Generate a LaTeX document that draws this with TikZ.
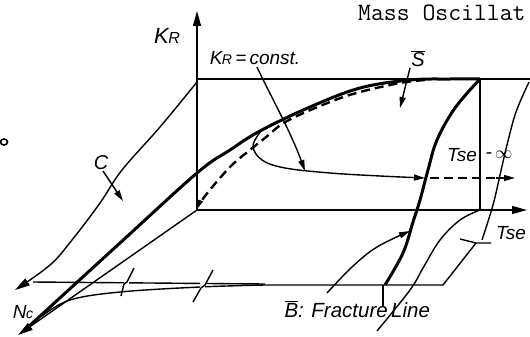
\documentclass[tikz,border=0pt]{standalone}
\usepackage{fontspec}
\newfontfamily\hand{Liberation Sans}
\usetikzlibrary{arrows.meta}
\begin{document}
\begin{tikzpicture}[x=1pt,y=-1pt,
  thinl/.style={line width=1.4pt},
  thickl/.style={line width=3pt},
  axtip/.style={-{Triangle[length=15pt,width=8pt]}},
  ptip/.style={-{Triangle[length=11pt,width=6pt]}},
  lbl/.style={font=\hand\itshape\fontsize{19}{19}\selectfont, inner sep=0pt},
  dashl/.style={line width=2.4pt, dash pattern=on 9pt off 5pt}]
\useasboundingbox (0,0) rectangle (530,337);

% key points
\coordinate (O) at (197,210);
\coordinate (KRtop) at (197,11);
\coordinate (TL) at (197,79);
\coordinate (TR) at (480,79);
\coordinate (TRR) at (530,79);
\coordinate (BR) at (480,210);
\coordinate (Tend) at (527,210);
\coordinate (Nend) at (18,335);

% axes and back plane
\draw[thinl, axtip] (O) -- (KRtop);
\draw[thinl, axtip] (O) -- (Tend);
\draw[thinl, axtip] (O) -- (Nend);
\draw[thinl] (TL) -- (TRR);
\draw[thinl] (TR) -- (BR);

% curve C
\draw[thinl, axtip] plot[smooth, tension=0.6] coordinates {(197,82) (160,127) (122,170) (100,203) (72,240) (50,265) (15,290)};

% thick solid surface curve
\draw[thickl] plot[smooth, tension=0.6] coordinates {(27,328) (50,307) (120,243) (197,173) (230,150) (260,131) (310,107) (360,88) (410,80) (450,79) (480,79)};

% dashed curve
\draw[dashl, -{Triangle[length=8pt,width=5pt]}] plot[smooth, tension=0.6] coordinates {(425,80) (400,83) (360,92) (330,102) (287,121) (265,138) (250,150) (230,167) (205,196) (198,208)};

% fracture line B (thick)
\draw[thickl] plot[smooth, tension=0.6] coordinates {(480,79) (455,108) (437,140) (428,170) (420,200) (413,222) (403,253) (385,285)};

% K_R = const curve
\draw[thinl, ptip] plot[smooth, tension=0.6] coordinates {(261,131) (253,146) (262,160) (285,168) (330,173) (380,176) (425,178)};
\draw[thinl, dash pattern=on 9pt off 5pt] (430,178) -- (500,178);
\draw[thinl, ptip] (496,178) -- (515,178);

% Tse -> infinity curve on the right
\draw[thinl] plot[smooth, tension=0.6] coordinates {(529,82) (516,112) (507,145) (500,175) (493,205) (482,240)};
\draw[thinl] (460,239) -- (476,243) -- (491,243);

% base plane edges
\draw[thinl] (476,243) -- (443,285) -- (265,285);
\draw[thinl] (33,282) -- (265,284);
\draw[thinl] plot[smooth, tension=0.6] coordinates {(42,316) (70,300) (120,292) (200,287) (265,285)};
% break marks
\fill[white] (124,278) rectangle (129,288);
\draw[thinl] (134,268) -- (127,282) -- (124,284) -- (121,296);
\fill[white] (200,282) rectangle (205,291);
\draw[thinl] (213,270) -- (205,285) -- (201,288) -- (193,302);

% projection of fracture line
\draw[thinl] plot[smooth, tension=0.6] coordinates {(480,210) (460,220) (440,240) (423,268) (410,290) (377,331)};
\draw[thinl] (383,285) -- (383,306);

% pointers
\draw[thinl, ptip] (257,67) .. controls (270,95) and (290,130) .. (305,171);
\draw[thinl, ptip] (410,68) -- (400,108);
\draw[thinl, ptip] (103,171) -- (123,201);
\draw[thinl, ptip] plot[smooth, tension=0.6] coordinates {(327,293) (352,267) (377,247) (410,231)};

% left edge fragment
\draw[line width=1.6pt] (4,142) ellipse (3.5 and 3);

% labels
\node[lbl, font=\hand\itshape\fontsize{22}{22}\selectfont] (kr) at (167,36) {K\kern-0.5pt{\fontsize{16}{16}\selectfont R}};
\node[lbl] (krc) at (255,58) {K\kern-0.5pt{\fontsize{14}{14}\selectfont R}\,=\,const.};
\node[lbl, font=\hand\itshape\fontsize{20}{20}\selectfont] (sbar) at (418,59) {$\overline{\hbox{\hand\itshape\fontsize{20}{20}\selectfont S}}$};
\node[lbl, font=\hand\itshape\fontsize{20}{20}\selectfont] (c) at (101,163) {C};
\node[lbl] (tse1) at (462,155) {Tse};
\node[lbl] (inf) at (499,155) {-\,$\infty$};
\node[lbl] (tse2) at (511,233) {Tse};
\node[lbl] (nc) at (23,312) {N\kern-0.5pt{\fontsize{14}{14}\selectfont c}};
\node[lbl, font=\hand\itshape\fontsize{20.5}{20.5}\selectfont, anchor=base east] (frac) at (388,317) {$\overline{\hbox{\hand\itshape\fontsize{20.5}{20.5}\selectfont B}}$: Fracture};
\node[lbl, font=\hand\itshape\fontsize{20.5}{20.5}\selectfont, anchor=base west] (line) at (391,317) {Line};
\node[font=\ttfamily\fontsize{25}{25}\selectfont, inner sep=0pt, anchor=base west] (title) at (358,20.5) {Mass Oscillat};
\end{tikzpicture}
\end{document}
